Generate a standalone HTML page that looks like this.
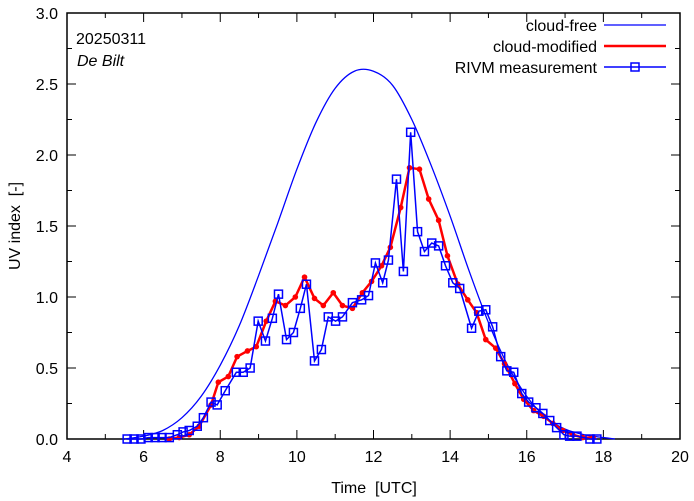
<!DOCTYPE html>
<html><head><meta charset="utf-8"><style>
body{margin:0;background:#fff;}
svg{display:block;font-family:"Liberation Sans",sans-serif;}
text{white-space:pre;}
</style></head><body>
<svg id="chart" width="694" height="501" viewBox="0 0 694 501">
<g id="grid"></g>
<g id="series"></g>
<text x="76" y="44" font-size="16">20250311</text>
<text x="77" y="66" font-size="16" font-style="italic">De Bilt</text>
<g font-size="16">
<g><text x="597" y="31" text-anchor="end">cloud-free</text><line x1="604" y1="25" x2="666" y2="25" stroke="#0000ff" stroke-width="1.2"/></g>
<g><text x="597" y="52" text-anchor="end">cloud-modified</text><line x1="604" y1="46" x2="666" y2="46" stroke="#ff0000" stroke-width="2.5"/></g>
<g><text x="597" y="73" text-anchor="end">RIVM measurement</text><line x1="604" y1="67" x2="666" y2="67" stroke="#0000ff" stroke-width="1.5"/><rect x="631" y="63" width="8" height="8" fill="none" stroke="#0000ff" stroke-width="1.5"/></g>
</g>
<text x="374" y="493" font-size="16" text-anchor="middle" xml:space="preserve">Time  [UTC]</text>
<text transform="translate(20,226) rotate(-90)" font-size="16" text-anchor="middle" xml:space="preserve">UV index  [-]</text>
</svg>
<script>
const xTicks=[4,6,8,10,12,14,16,18,20];
const yTicks=[0,0.5,1.0,1.5,2.0,2.5,3.0];
const freeT=[5.5,6,6.5,7,7.5,8,8.5,9,9.5,10,10.5,11,11.5,12,12.5,13,13.5,14,14.5,15,15.5,16,16.5,17,17.5,18,18.3];
const freeV=[0,0.02,0.06,0.15,0.3,0.52,0.8,1.15,1.52,1.9,2.23,2.47,2.59,2.59,2.49,2.25,1.93,1.57,1.18,0.82,0.52,0.3,0.15,0.07,0.03,0.01,0];
const modT=[6.67,6.93,7.19,7.45,7.76,7.95,8.21,8.44,8.71,8.94,9.2,9.44,9.7,9.96,10.2,10.46,10.69,10.95,11.19,11.45,11.71,11.95,12.21,12.44,12.71,12.94,13.2,13.44,13.7,13.93,14.2,14.46,14.69,14.93,15.19,15.42,15.69,15.92,16.18,16.44,16.68,16.94,17.2,17.46,17.73];
const modV=[0,0.01,0.03,0.09,0.24,0.4,0.44,0.58,0.62,0.65,0.83,0.97,0.94,1.0,1.14,0.99,0.94,1.03,0.94,0.92,1.03,1.11,1.22,1.35,1.63,1.91,1.9,1.69,1.54,1.29,1.09,0.98,0.89,0.7,0.64,0.53,0.39,0.28,0.2,0.16,0.11,0.06,0.03,0.01,0.01];
const measT=[5.57,5.75,5.93,6.12,6.3,6.48,6.67,6.88,7.03,7.19,7.4,7.56,7.76,7.92,8.13,8.42,8.6,8.78,8.99,9.18,9.36,9.52,9.73,9.91,10.09,10.25,10.46,10.64,10.82,11.01,11.19,11.45,11.69,11.87,12.05,12.24,12.39,12.6,12.78,12.97,13.15,13.33,13.52,13.7,13.88,14.07,14.25,14.56,14.75,14.93,15.11,15.32,15.48,15.66,15.87,16.05,16.24,16.42,16.6,16.78,16.97,17.12,17.31,17.65,17.83];
const measV=[0,0,0,0.01,0.01,0.01,0.01,0.03,0.05,0.06,0.09,0.15,0.26,0.24,0.34,0.47,0.47,0.5,0.83,0.69,0.85,1.02,0.7,0.75,0.92,1.09,0.55,0.63,0.86,0.83,0.86,0.96,0.98,1.01,1.24,1.1,1.26,1.83,1.18,2.16,1.46,1.32,1.38,1.36,1.22,1.1,1.06,0.78,0.9,0.91,0.79,0.58,0.48,0.47,0.32,0.26,0.22,0.18,0.13,0.08,0.03,0.02,0.02,0,0];
const L=67,R=680,T=13,B=439;
const xs=t=>L+(t-4)/16*(R-L);
const ys=v=>B-v/3*(B-T);
const NS='http://www.w3.org/2000/svg';
function mk(tag,attrs,parent){const e=document.createElementNS(NS,tag);for(const k in attrs)e.setAttribute(k,attrs[k]);parent.appendChild(e);return e;}
const g=document.getElementById('grid'),s=document.getElementById('series');
const frame=mk('rect',{x:L,y:T,width:R-L,height:B-T,fill:'none',stroke:'#000','stroke-width':1.5},g);


for(let h=4;h<=20;h++){const x=xs(h),len=h%2?5:9;
 mk('line',{x1:x,y1:B,x2:x,y2:B-len,stroke:'#000'},g);mk('line',{x1:x,y1:T,x2:x,y2:T+len,stroke:'#000'},g);}
xTicks.forEach(t=>{const e=mk('text',{x:xs(t),y:B+23,'font-size':16,'text-anchor':'middle'},g);e.textContent=t;
 
 });
for(let v=0;v<=3.001;v+=0.25){const y=ys(v),len=(Math.round(v*4)%2)?5:9;
 mk('line',{x1:L,y1:y,x2:L+len,y2:y,stroke:'#000'},g);mk('line',{x1:R,y1:y,x2:R-len,y2:y,stroke:'#000'},g);}
yTicks.forEach(v=>{const e=mk('text',{x:L-9,y:ys(v)+6,'font-size':16,'text-anchor':'end'},g);e.textContent=v.toFixed(1);
 
 });
const P=freeT.map((t,i)=>[xs(t),ys(freeV[i])]);
let d='M'+P[0][0]+','+P[0][1];
for(let i=0;i<P.length-1;i++){const p0=P[Math.max(0,i-1)],p1=P[i],p2=P[i+1],p3=P[Math.min(P.length-1,i+2)];
 d+=` C${p1[0]+(p2[0]-p0[0])/6},${p1[1]+(p2[1]-p0[1])/6} ${p2[0]-(p3[0]-p1[0])/6},${p2[1]-(p3[1]-p1[1])/6} ${p2[0]},${p2[1]}`;}
const fc=mk('path',{d:d,fill:'none',stroke:'#0000ff','stroke-width':1.3},s);


const ml=mk('polyline',{points:modT.map((t,i)=>xs(t)+','+ys(modV[i])).join(' '),fill:'none',stroke:'#ff0000','stroke-width':2.5},s);


modT.forEach((t,i)=>{const c=mk('circle',{cx:xs(t),cy:ys(modV[i]),r:2.8,fill:'#ff0000'},s);
 
 });
const rl=mk('polyline',{points:measT.map((t,i)=>xs(t)+','+ys(measV[i])).join(' '),fill:'none',stroke:'#0000ff','stroke-width':1.5},s);


measT.forEach((t,i)=>{const r=mk('rect',{x:xs(t)-4,y:ys(measV[i])-4,width:8,height:8,fill:'none',stroke:'#0000ff','stroke-width':1.5},s);
 
 });
</script>
</body></html>
